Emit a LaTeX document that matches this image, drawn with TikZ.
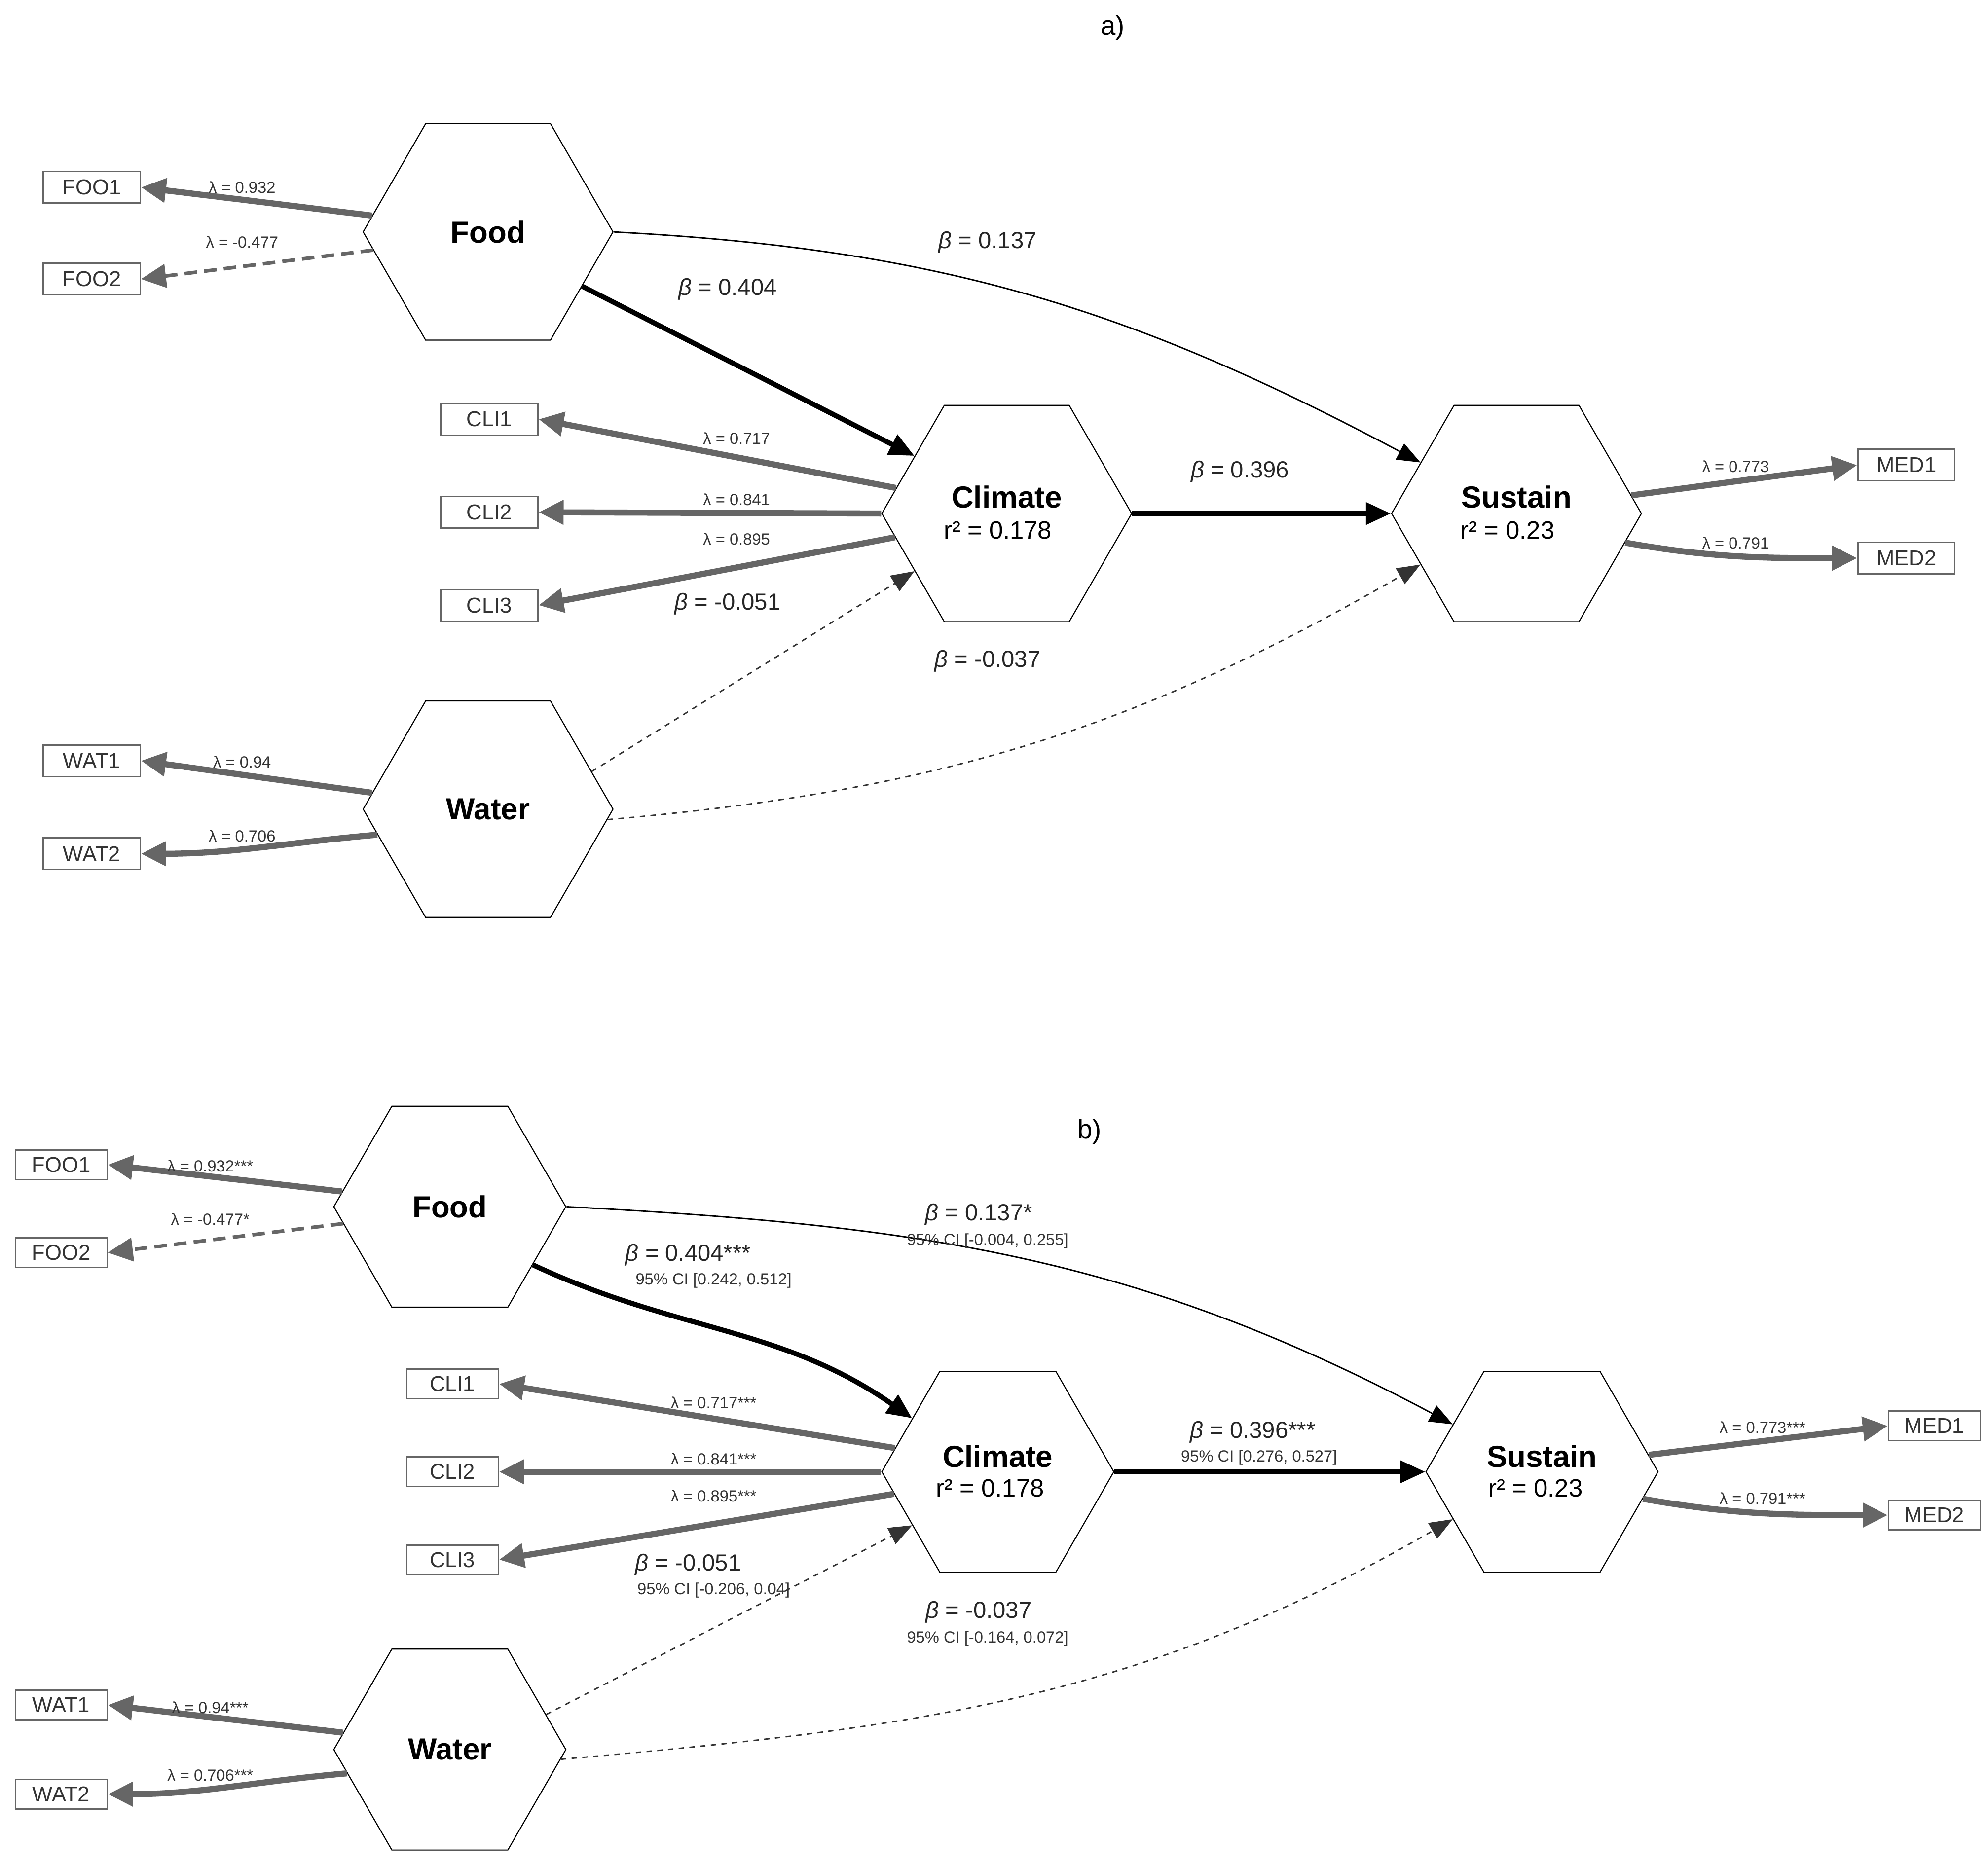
\documentclass[tikz,border=0pt]{standalone}
\usepackage{fontspec}
\setmainfont{Liberation Sans}
\usetikzlibrary{shapes.geometric,arrows.meta}

\tikzset{
  latent/.style={draw,semithick,regular polygon,regular polygon sides=6,minimum size=4.9cm,
    inner sep=0pt,align=center,font=\fontsize{17}{17}\selectfont\bfseries},
  latentb/.style={latent,minimum size=4.55cm},
  manifest/.style={draw=black!60,thick,rectangle,minimum width=1.9cm,minimum height=0.62cm,
    inner sep=1pt,font=\fontsize{12}{12}\selectfont,text=black!80},
  manifestb/.style={manifest,minimum width=1.8cm,minimum height=0.58cm},
  load/.style={draw=black!60,line width=3.4pt,-{Triangle[length=14pt,width=13pt]}},
  dload/.style={load,line width=2pt,dash pattern=on 7pt off 4pt},
  strong/.style={line width=2.8pt,-{Triangle[length=14pt,width=12pt]}},
  weak/.style={line width=0.8pt,-{Triangle[length=13pt,width=10pt]}},
  lam/.style={font=\fontsize{9}{9}\selectfont,text=black!80,inner sep=1pt},
  beta/.style={font=\fontsize{13}{13}\selectfont,text=black!85,inner sep=1pt},
  ci/.style={font=\fontsize{9}{9}\selectfont,text=black!80,inner sep=1pt},
  rsq/.style={font=\fontsize{14}{14}\selectfont,inner sep=0pt}
}

\begin{document}
\begin{tikzpicture}[x=0.025cm,y=-0.025cm]
\useasboundingbox (0,0) rectangle (1560,1465);

% panel a
\node[font=\fontsize{15}{15}\selectfont] (tita) at (873,22) {a)};
\node[latent] (food) at (383,182) {Food};
\node[latent] (clim) at (790,403) {};
\node[latent] (sust) at (1190,403) {};
\node[latent] (watr) at (383,635) {Water};
\node[font=\fontsize{17}{17}\selectfont\bfseries] (climt) at (790,390) {Climate};
\node[rsq] (climr) at (783,416) {r² = 0.178};
\node[font=\fontsize{17}{17}\selectfont\bfseries] (sustt) at (1190,390) {Sustain};
\node[rsq] (sustr) at (1183,416) {r² = 0.23};

\node[manifest] (foo1) at (72,147) {FOO1};
\node[manifest] (foo2) at (72,219) {FOO2};
\node[manifest] (cli1) at (384,329) {CLI1};
\node[manifest] (cli2) at (384,402) {CLI2};
\node[manifest] (cli3) at (384,475) {CLI3};
\node[manifest] (wat1) at (72,597) {WAT1};
\node[manifest] (wat2) at (72,670) {WAT2};
\node[manifest] (med1) at (1496,365) {MED1};
\node[manifest] (med2) at (1496,438) {MED2};

\draw[load] (food.172) -- (foo1.east);
\draw[dload] (food.189) -- (foo2.east);
\draw[load] (clim.167) -- (cli1.east);
\draw[load] (clim.180) -- (cli2.east);
\draw[load] (clim.192) -- (cli3.east);
\draw[load] (watr.172) -- (wat1.east);
\draw[load] (watr.193) to[out=185,in=0] (wat2.east);
\draw[load] (sust.9) -- (med1.west);
\draw[load] (sust.345) to[out=-10,in=180] (med2.west);

\draw[strong] (food.330) -- (clim.148);
\draw[weak] (food.0) to[out=-3,in=152] (sust.152);
\draw[strong] (clim.0) -- (sust.180);
\draw[weak,dashed,black!80] (watr.20) -- (clim.212);
\draw[weak,dashed,black!80] (watr.355) to[out=5,in=-150] (sust.208);

\node[lam] at (190,147) {λ = 0.932};
\node[lam] at (190,190) {λ = -0.477};
\node[lam] at (578,344) {λ = 0.717};
\node[lam] at (578,392) {λ = 0.841};
\node[lam] at (578,423) {λ = 0.895};
\node[lam] at (190,598) {λ = 0.94};
\node[lam] at (190,656) {λ = 0.706};
\node[lam] at (1362,366) {λ = 0.773};
\node[lam] at (1362,426) {λ = 0.791};

\node[beta] at (571,227) {\textit{β} = 0.404};
\node[beta] at (775,190) {\textit{β} = 0.137};
\node[beta] at (973,370) {\textit{β} = 0.396};
\node[beta] at (571,474) {\textit{β} = -0.051};
\node[beta] at (775,519) {\textit{β} = -0.037};

% panel b
\node[font=\fontsize{15}{15}\selectfont] (titb) at (855,888) {b)};
\node[latentb] (foodb) at (353,947) {Food};
\node[latentb] (climb) at (783,1155) {};
\node[latentb] (sustb) at (1210,1155) {};
\node[latentb] (watrb) at (353,1373) {Water};
\node[font=\fontsize{17}{17}\selectfont\bfseries] (climbt) at (783,1143) {Climate};
\node[rsq] (climbr) at (777,1168) {r² = 0.178};
\node[font=\fontsize{17}{17}\selectfont\bfseries] (sustbt) at (1210,1143) {Sustain};
\node[rsq] (sustbr) at (1205,1168) {r² = 0.23};

\node[manifestb] (foo1b) at (48,914) {FOO1};
\node[manifestb] (foo2b) at (48,983) {FOO2};
\node[manifestb] (cli1b) at (355,1086) {CLI1};
\node[manifestb] (cli2b) at (355,1155) {CLI2};
\node[manifestb] (cli3b) at (355,1224) {CLI3};
\node[manifestb] (wat1b) at (48,1338) {WAT1};
\node[manifestb] (wat2b) at (48,1408) {WAT2};
\node[manifestb] (med1b) at (1518,1119) {MED1};
\node[manifestb] (med2b) at (1518,1189) {MED2};

\draw[load] (foodb.172) -- (foo1b.east);
\draw[dload] (foodb.189) -- (foo2b.east);
\draw[load] (climb.167) -- (cli1b.east);
\draw[load] (climb.180) -- (cli2b.east);
\draw[load] (climb.192) -- (cli3b.east);
\draw[load] (watrb.171) -- (wat1b.east);
\draw[load] (watrb.193) to[out=185,in=0] (wat2b.east);
\draw[load] (sustb.9) -- (med1b.west);
\draw[load] (sustb.345) to[out=-10,in=180] (med2b.west);

\draw[strong] (foodb.325) to[out=-25,in=145] (climb.148);
\draw[weak] (foodb.0) to[out=-3,in=152] (sustb.152);
\draw[strong] (climb.0) -- (sustb.180);
\draw[weak,dashed,black!80] (watrb.20) -- (climb.212);
\draw[weak,dashed,black!80] (watrb.355) to[out=5,in=-150] (sustb.208);

\node[lam] at (165,915) {λ = 0.932***};
\node[lam] at (165,957) {λ = -0.477*};
\node[lam] at (560,1101) {λ = 0.717***};
\node[lam] at (560,1145) {λ = 0.841***};
\node[lam] at (560,1174) {λ = 0.895***};
\node[lam] at (165,1340) {λ = 0.94***};
\node[lam] at (165,1393) {λ = 0.706***};
\node[lam] at (1383,1120) {λ = 0.773***};
\node[lam] at (1383,1176) {λ = 0.791***};

\node[beta] at (768,953) {\textit{β} = 0.137*};
\node[ci] at (775,974) {95\% CI [-0.004, 0.255]};
\node[beta] at (540,985) {\textit{β} = 0.404***};
\node[ci] at (560,1005) {95\% CI [0.242, 0.512]};
\node[beta] at (983,1124) {\textit{β} = 0.396***};
\node[ci] at (988,1144) {95\% CI [0.276, 0.527]};
\node[beta] at (540,1228) {\textit{β} = -0.051};
\node[ci] at (560,1248) {95\% CI [-0.206, 0.04]};
\node[beta] at (768,1265) {\textit{β} = -0.037};
\node[ci] at (775,1286) {95\% CI [-0.164, 0.072]};
\end{tikzpicture}
\end{document}
